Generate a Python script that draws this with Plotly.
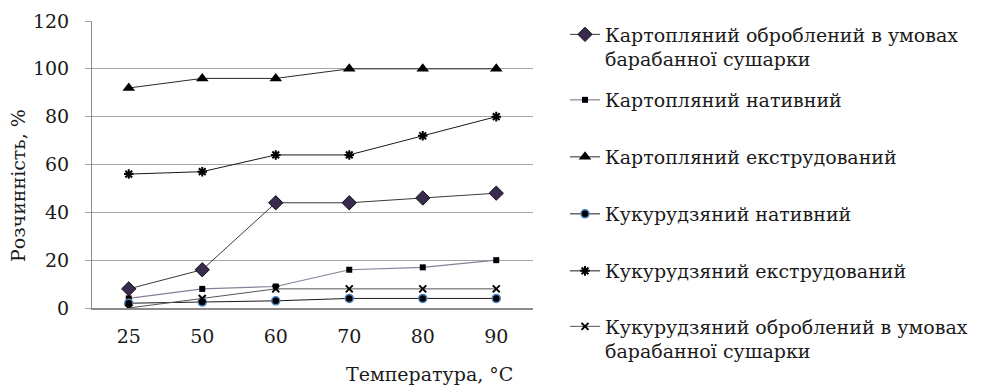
import plotly.graph_objects as go

temps = ["25", "50", "60", "70", "80", "90"]
names = [
    "Картопляний оброблений в умовах<br>барабанної сушарки",
    "Картопляний нативний",
    "Картопляний екструдований",
    "Кукурудзяний нативний",
    "Кукурудзяний екструдований",
    "Кукурудзяний оброблений в умовах<br>барабанної сушарки",
]
potato_drum = [8, 16, 44, 44, 46, 48]
potato_native = [4, 8, 9, 16, 17, 20]
potato_extruded = [92, 96, 96, 100, 100, 100]
corn_native = [2, 2.5, 3, 4, 4, 4]
corn_extruded = [56, 57, 64, 64, 72, 80]
corn_drum = [0, 4, 8, 8, 8, 8]

series = [potato_drum, potato_native, potato_extruded, corn_native, corn_extruded, corn_drum]
styles = [
    dict(line=dict(color="#3a3a3a", width=1),
         marker=dict(symbol="diamond", size=11, color="#3b2a50", line=dict(color="#111", width=1))),
    dict(line=dict(color="#8a7f98", width=1.2),
         marker=dict(symbol="square", size=6, color="#000", line=dict(width=0))),
    dict(line=dict(color="#2a2a2a", width=1),
         marker=dict(symbol="triangle-up", size=11, color="#000", line=dict(width=0))),
    dict(line=dict(color="#1a1a1a", width=1),
         marker=dict(symbol="circle", size=8, color="#000", line=dict(color="#4f81bd", width=1.5))),
    dict(line=dict(color="#1a1a1a", width=1),
         marker=dict(symbol="asterisk-open", size=8, color="#000", line=dict(color="#000", width=2))),
    dict(line=dict(color="#555", width=1),
         marker=dict(symbol="x-thin-open", size=7, color="#000", line=dict(color="#000", width=2))),
]

FONT = "DejaVu Serif"
TXT = "#1a1a1a"
PLOT_TOP, PLOT_BOTTOM, PLOT_LEFT, PLOT_W = 21, 308, 92, 441
PLOT_H = PLOT_BOTTOM - PLOT_TOP
legend_centers = [47, 100, 157, 214, 271, 339]

fig = go.Figure()
legend_ids = ["legend"] + [f"legend{i}" for i in range(2, 7)]
for i, (nm, vals, st) in enumerate(zip(names, series, styles)):
    fig.add_trace(go.Scatter(x=temps, y=vals, name=nm, mode="lines+markers",
                             legend=legend_ids[i], **st))

legend_layout = {}
for lid, c in zip(legend_ids, legend_centers):
    legend_layout[lid] = dict(
        x=(565 - PLOT_LEFT) / PLOT_W, y=(PLOT_BOTTOM - c) / PLOT_H,
        xanchor="left", yanchor="middle", valign="top",
        font=dict(family=FONT, size=19, color=TXT),
        bgcolor="rgba(0,0,0,0)", borderwidth=0)

fig.update_layout(
    width=991, height=386,
    margin=dict(l=PLOT_LEFT, r=991 - PLOT_LEFT - PLOT_W, t=PLOT_TOP, b=386 - PLOT_BOTTOM),
    paper_bgcolor="white", plot_bgcolor="white",
    font=dict(family=FONT, size=19, color=TXT),
    showlegend=True,
    xaxis=dict(type="category", range=[-0.5, 5.5], showgrid=False,
               showline=True, linecolor="#8c8c8c", linewidth=1.5,
               ticks="", ticklabelstandoff=10, zeroline=False, automargin=False,
               tickfont=dict(family=FONT, size=19, color=TXT)),
    yaxis=dict(range=[0, 120], tickvals=[0, 20, 40, 60, 80, 100, 120],
               showgrid=True, gridcolor="#a6a6a6", gridwidth=1,
               showline=True, linecolor="#8c8c8c", linewidth=1,
               ticks="outside", ticklen=6, tickcolor="#a6a6a6",
               ticklabelstandoff=12, zeroline=False, automargin=False,
               tickfont=dict(family=FONT, size=19, color=TXT)),
    annotations=[
        dict(text="Температура, °С", xref="paper", yref="paper",
             x=(429 - PLOT_LEFT) / PLOT_W, y=(PLOT_BOTTOM - 374) / PLOT_H,
             xanchor="center", yanchor="middle",
             showarrow=False, font=dict(family=FONT, size=19, color=TXT)),
        dict(text="Розчинність, %", xref="paper", yref="paper",
             x=(18 - PLOT_LEFT) / PLOT_W, y=(PLOT_BOTTOM - 186) / PLOT_H,
             xanchor="center", yanchor="middle",
             textangle=-90, showarrow=False, font=dict(family=FONT, size=19, color=TXT)),
    ],
)
for lid, cfg in legend_layout.items():
    fig.update_layout({lid: cfg})

fig.write_html("out.html", config={"displayModeBar": False},
               post_script="document.body.style.margin='0';")
